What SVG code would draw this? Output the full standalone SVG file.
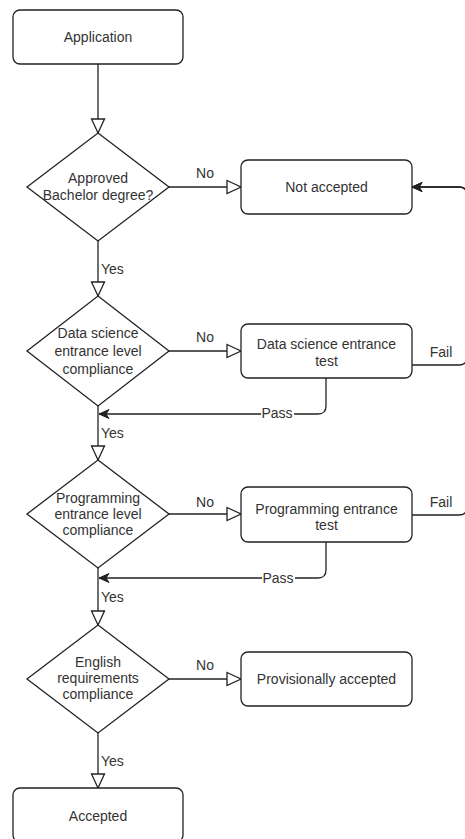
<svg xmlns="http://www.w3.org/2000/svg" width="465" height="839" viewBox="0 0 465 839">
<style>
.node{fill:#fff;stroke:#222;stroke-width:1.3}
.edge{fill:none;stroke:#222;stroke-width:1.3}
text{font-family:"Liberation Sans",Arial,sans-serif;font-size:14px;fill:#333}
.c{text-anchor:middle}
</style>
<defs>
<marker id="open" markerUnits="userSpaceOnUse" markerWidth="17" markerHeight="16" viewBox="0 0 17 16" refX="15.5" refY="8" orient="auto">
<path d="M1.5,1.5 L15.5,8 L1.5,14.5 Z" fill="#fff" stroke="#222" stroke-width="1.3"/>
</marker>
<marker id="fill" markerUnits="userSpaceOnUse" markerWidth="11" markerHeight="10" viewBox="0 0 11 10" refX="10.5" refY="5" orient="auto">
<path d="M10.5,5 L0.5,0.5 L3.5,5 L0.5,9.5 Z" fill="#222" stroke="#222" stroke-width="1"/>
</marker>
</defs>
<rect width="465" height="839" fill="#fff"/>
<g id="connectors">
<path class="edge" d="M98,64 V133" marker-end="url(#open)"/>
<path class="edge" d="M168,187 H241" marker-end="url(#open)"/>
<path class="edge" d="M98,241 V296" marker-end="url(#open)"/>
<path class="edge" d="M168,351 H241" marker-end="url(#open)"/>
<path class="edge" d="M412,365 H459 Q467,365 467,357 V195 Q467,187 459,187 H412" marker-end="url(#fill)"/>
<path class="edge" d="M326,378 V406 Q326,414 318,414 H99" marker-end="url(#fill)"/>
<path class="edge" d="M98,406 V460" marker-end="url(#open)"/>
<path class="edge" d="M168,514 H241" marker-end="url(#open)"/>
<path class="edge" d="M412,515 H459 Q467,515 467,507 V195 Q467,187 459,187 H412" marker-end="url(#fill)"/>
<path class="edge" d="M326,542 V570 Q326,578 318,578 H99" marker-end="url(#fill)"/>
<path class="edge" d="M98,568 V625" marker-end="url(#open)"/>
<path class="edge" d="M168,679 H241" marker-end="url(#open)"/>
<path class="edge" d="M98,733 V788" marker-end="url(#open)"/>
<text class="c" x="205" y="178">No</text>
<text class="c" x="205" y="342">No</text>
<text class="c" x="205" y="507">No</text>
<text class="c" x="205" y="670">No</text>
<text x="101" y="274">Yes</text>
<text x="101" y="438">Yes</text>
<text x="101" y="602">Yes</text>
<text x="101" y="766">Yes</text>
<text class="c" x="441" y="357">Fail</text>
<text class="c" x="441" y="507">Fail</text>
<rect x="261" y="406" width="33" height="15" fill="#fff"/>
<text class="c" x="277" y="418">Pass</text>
<rect x="262" y="570" width="33" height="15" fill="#fff"/>
<text class="c" x="278" y="583">Pass</text>
</g>
<g id="application">
<rect class="node" x="13" y="10" width="170" height="54" rx="7"/>
<text class="c" x="98" y="42">Application</text>
</g>
<g id="bachelor">
<path class="node" d="M98,133 L169,187 L98,241 L27,187 Z"/>
<text class="c" x="98" y="183">Approved</text>
<text class="c" x="98" y="200">Bachelor degree?</text>
</g>
<g id="not-accepted">
<rect class="node" x="241" y="160" width="171" height="54" rx="7"/>
<text class="c" x="326.5" y="192">Not accepted</text>
</g>
<g id="ds-compliance">
<path class="node" d="M98,296 L169,351 L98,406 L27,351 Z"/>
<text class="c" x="98" y="338">Data science</text>
<text class="c" x="98" y="356">entrance level</text>
<text class="c" x="98" y="374">compliance</text>
</g>
<g id="ds-test">
<rect class="node" x="241" y="324" width="171" height="54" rx="7"/>
<text class="c" x="326.5" y="349">Data science entrance</text>
<text class="c" x="326.5" y="366">test</text>
</g>
<g id="prog-compliance">
<path class="node" d="M98,460 L169,514 L98,568 L27,514 Z"/>
<text class="c" x="98" y="503">Programming</text>
<text class="c" x="98" y="519">entrance level</text>
<text class="c" x="98" y="535">compliance</text>
</g>
<g id="prog-test">
<rect class="node" x="241" y="487" width="171" height="55" rx="7"/>
<text class="c" x="326.5" y="514">Programming entrance</text>
<text class="c" x="326.5" y="530">test</text>
</g>
<g id="english">
<path class="node" d="M98,625 L169,679 L98,733 L27,679 Z"/>
<text class="c" x="98" y="667">English</text>
<text class="c" x="98" y="683">requirements</text>
<text class="c" x="98" y="699">compliance</text>
</g>
<g id="provisional">
<rect class="node" x="241" y="652" width="171" height="54" rx="7"/>
<text class="c" x="326.5" y="684">Provisionally accepted</text>
</g>
<g id="accepted">
<rect class="node" x="13" y="788" width="170" height="54" rx="7"/>
<text class="c" x="98" y="821">Accepted</text>
</g>
</svg>
